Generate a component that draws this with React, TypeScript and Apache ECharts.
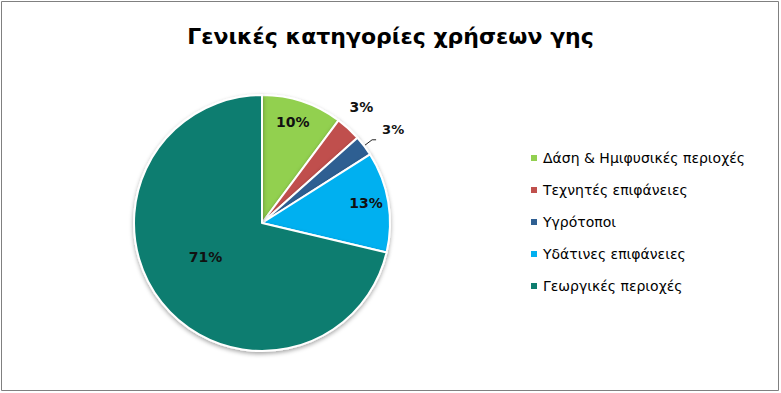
import React, { useEffect, useRef } from "react";
import * as echarts from "echarts";

const categories = [
  "Δάση & Ημιφυσικές περιοχές",
  "Τεχνητές επιφάνειες",
  "Υγρότοποι",
  "Υδάτινες επιφάνειες",
  "Γεωργικές περιοχές",
];
const values = [10.2, 3.2, 2.6, 12.7, 71.3];
const colors = ["#92D050", "#C0504D", "#2F5F92", "#00B0F0", "#0E7D6F"];

const labelFont = {
  fontFamily: "DejaVu Sans",
  fontWeight: "bold" as const,
  fontSize: 13,
  color: "#111",
};

const fmt = (p: any) => Math.round(p.percent) + "%";

export default function App() {
  const ref = useRef<HTMLDivElement>(null);
  useEffect(() => {
    const chart = echarts.init(ref.current!, null, { renderer: "svg" });
    const center = [262, 223];
    const mainData = categories.map((name, i) => {
      const item: any = {
        name,
        value: values[i],
        itemStyle: { color: colors[i] },
        label: { show: i === 4, position: "inside", fontSize: 14 },
        labelLine: { show: false },
      };
      if (i === 2) {
        item.label = { show: true, position: "outside", distanceToLabelLine: 2 };
        item.labelLine = { show: true, length: 10, length2: 4, lineStyle: { color: "#222", width: 1 } };
      }
      return item;
    });
    const overlay = (show: number[]) =>
      categories.map((name, i) => ({
        name,
        value: values[i],
        itemStyle: { color: "rgba(0,0,0,0)" },
        label: { show: show.includes(i) },
      }));
    chart.setOption({
      animation: false,
      title: {
        text: "Γενικές κατηγορίες χρήσεων γης",
        left: "center",
        top: 20,
        textStyle: {
          fontFamily: "DejaVu Sans",
          fontWeight: "bold",
          fontSize: 22,
          color: "#000",
        },
      },
      legend: {
        orient: "vertical",
        left: 524,
        top: 146,
        itemWidth: 8,
        itemHeight: 8,
        itemGap: 18,
        icon: "rect",
        data: categories,
        textStyle: { fontFamily: "DejaVu Sans", fontSize: 14, color: "#000" },
      },
      graphic: [
        {
          type: "rect",
          shape: { x: 1.5, y: 1.5, width: 777, height: 389 },
          style: { fill: "none", stroke: "#808080", lineWidth: 1 },
          silent: true,
        },
      ],
      series: [
        {
          type: "pie",
          center,
          radius: [0, 128],
          startAngle: 90,
          clockwise: true,
          data: mainData,
          label: { ...labelFont, formatter: fmt },
          labelLayout: (p: any) =>
            p.dataIndex === 2 ? { dx: 4, dy: -10 } : p.dataIndex === 4 ? { dx: -4, dy: -8 } : {},
          itemStyle: {
            borderColor: "#fff",
            borderWidth: 2,
            shadowBlur: 4,
            shadowOffsetY: 2,
            shadowColor: "rgba(0,0,0,0.35)",
          },
          emphasis: { disabled: true },
        },
        {
          type: "pie",
          center,
          radius: [0, 206],
          startAngle: 91.5,
          silent: true,
          data: overlay([0, 3]),
          label: { ...labelFont, fontSize: 14, position: "inside", formatter: fmt },
          labelLine: { show: false },
          emphasis: { disabled: true },
        },
        {
          type: "pie",
          center,
          radius: [0, 300],
          startAngle: 92,
          silent: true,
          data: overlay([1]),
          label: { ...labelFont, fontSize: 14, position: "inside", formatter: fmt },
          labelLine: { show: false },
          emphasis: { disabled: true },
        },
      ],
    });
    return () => chart.dispose();
  }, []);
  return (
    <div
      ref={ref}
      style={{ position: "fixed", left: 0, top: 0, width: 781, height: 393, background: "#fff" }}
    />
  );
}
